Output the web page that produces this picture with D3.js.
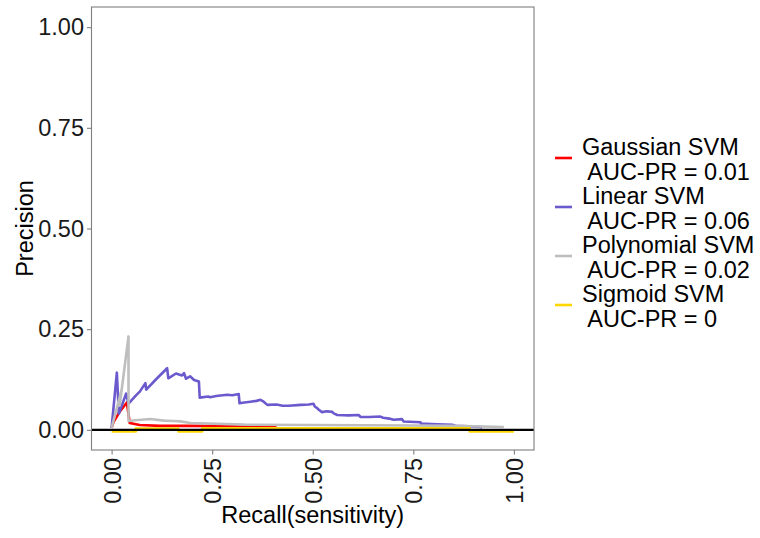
<!DOCTYPE html>
<html>
<head>
<meta charset="utf-8">
<script src="https://cdn.jsdelivr.net/npm/d3@7"></script>
<style>
  body { margin: 0; background: #fff; }
  text { font-family: "Liberation Sans", Arial, sans-serif; }
</style>
</head>
<body>
<svg width="760" height="538"></svg>
<script>
"use strict";

// series (recall, precision)
let gaussianRecall = [0, 0.005, 0.02, 0.038, 0.045, 0.07, 0.12, 0.2, 0.3, 0.36, 0.41];
let gaussianPrec = [0.005, 0.02, 0.045, 0.068, 0.017, 0.012, 0.01, 0.01, 0.009, 0.008, 0.008];

let linearRecall = [0, 0.013, 0.018, 0.036, 0.042, 0.06, 0.07, 0.084, 0.086, 0.11, 0.138, 0.141, 0.16, 0.175,
  0.18, 0.185, 0.195, 0.205, 0.217, 0.219, 0.24, 0.245, 0.26, 0.287, 0.3, 0.316, 0.318, 0.33, 0.345, 0.36,
  0.37, 0.378, 0.387, 0.41, 0.425, 0.44, 0.47, 0.49, 0.502, 0.505, 0.511, 0.515, 0.523, 0.535, 0.548, 0.552,
  0.561, 0.59, 0.614, 0.619, 0.64, 0.668, 0.675, 0.69, 0.701, 0.722, 0.726, 0.768, 0.769, 0.809,
  0.847, 0.855, 0.917, 0.921];
let linearPrec = [0.005, 0.142, 0.04, 0.09, 0.065, 0.085, 0.095, 0.116, 0.1, 0.125, 0.153, 0.128, 0.14, 0.135,
  0.141, 0.127, 0.133, 0.124, 0.12, 0.08, 0.083, 0.081, 0.084, 0.087, 0.086, 0.089, 0.066, 0.068, 0.07, 0.072,
  0.0745, 0.07, 0.062, 0.063, 0.06, 0.06, 0.062, 0.063, 0.065, 0.058, 0.054, 0.05, 0.044, 0.046, 0.045, 0.041,
  0.037, 0.036, 0.037, 0.032, 0.032, 0.033, 0.03, 0.028, 0.025, 0.0266, 0.0206, 0.019, 0.0156, 0.014,
  0.0124, 0.01, 0.0074, 0.005];

let polyRecall = [0, 0.025, 0.02, 0.042, 0.042, 0.06, 0.096, 0.13, 0.154, 0.171, 0.196, 0.33, 0.5, 0.75, 0.85, 0.975];
let polyPrec = [0.005, 0.1, 0.06, 0.232, 0.022, 0.024, 0.027, 0.023, 0.022, 0.021, 0.017, 0.013, 0.012, 0.011, 0.01, 0.007];

let sigmoidRecall = [0, 0.06, 0.06, 0.166, 0.166, 0.225, 0.225, 0.89, 0.89, 1.0];
let sigmoidPrec = [-0.004, -0.004, 0.003, 0.003, -0.004, -0.004, 0.004, 0.004, -0.004, -0.004];

let seriesNames = ["Gaussian SVM", "Linear SVM", "Polynomial SVM", "Sigmoid SVM"];
let aucLabels = ["AUC-PR = 0.01", "AUC-PR = 0.06", "AUC-PR = 0.02", "AUC-PR = 0"];
let seriesColors = ["#ff0000", "#6a5acd", "#bebebe", "#ffd700"];
let tickValues = [0, 0.25, 0.5, 0.75, 1];

let series = [
  d3.zip(gaussianRecall, gaussianPrec),
  d3.zip(linearRecall, linearPrec),
  d3.zip(polyRecall, polyPrec),
  d3.zip(sigmoidRecall, sigmoidPrec)
];

let svg = d3.select("svg");
let panelL = 91.5, panelR = 534, panelT = 7, panelB = 450;
let fontSize = "23.5px";

let x = d3.scaleLinear().domain([-0.05, 1.05]).range([panelL, panelR]);
let y = d3.scaleLinear().domain([-0.05, 1.05]).range([panelB, panelT]);

let line = d3.line().x(d => x(d[0])).y(d => y(d[1]));

let g = svg.append("g");

series.forEach((s, i) => {
  g.append("path")
    .datum(s)
    .attr("d", line)
    .attr("fill", "none")
    .attr("stroke", seriesColors[i])
    .attr("stroke-width", 2.6)
    .attr("stroke-linejoin", "round");
});

// reference line at zero
g.append("line")
  .attr("x1", panelL).attr("x2", panelR)
  .attr("y1", y(0)).attr("y2", y(0))
  .attr("stroke", "#000")
  .attr("stroke-width", 2.2);

// panel border
svg.append("rect")
  .attr("x", panelL).attr("y", panelT)
  .attr("width", panelR - panelL).attr("height", panelB - panelT)
  .attr("fill", "none")
  .attr("stroke", "#7f7f7f")
  .attr("stroke-width", 1.1);

let fmt = d3.format(".2f");

// y axis
let yAxis = svg.append("g")
  .attr("transform", "translate(" + panelL + ",0)")
  .call(d3.axisLeft(y).tickValues(tickValues).tickFormat(fmt).tickSize(4.5).tickPadding(3));
yAxis.select(".domain").remove();
yAxis.selectAll(".tick line").attr("stroke", "#7f7f7f").attr("stroke-width", 1.1);
yAxis.selectAll(".tick text")
  .attr("fill", "#1a1a1a")
  .style("font-size", fontSize)
  .style("font-family", "Liberation Sans, Arial, sans-serif");

// x axis, labels turned upright
let xAxis = svg.append("g")
  .attr("transform", "translate(0," + panelB + ")")
  .call(d3.axisBottom(x).tickValues(tickValues).tickFormat(fmt).tickSize(4.5));
xAxis.select(".domain").remove();
xAxis.selectAll(".tick line").attr("stroke", "#7f7f7f").attr("stroke-width", 1.1);
xAxis.selectAll(".tick text")
  .attr("fill", "#1a1a1a")
  .attr("text-anchor", "end")
  .attr("transform", "translate(0,8) rotate(-90)")
  .attr("x", 0).attr("y", 0)
  .attr("dy", "0.36em")
  .style("font-size", fontSize)
  .style("font-family", "Liberation Sans, Arial, sans-serif");

// axis titles
svg.append("text")
  .attr("x", (panelL + panelR) / 2)
  .attr("y", 523)
  .attr("text-anchor", "middle")
  .style("font-size", fontSize)
  .text("Recall(sensitivity)");

svg.append("text")
  .attr("transform", "translate(33," + ((panelT + panelB) / 2) + ") rotate(-90)")
  .attr("text-anchor", "middle")
  .style("font-size", fontSize)
  .text("Precision");

// legend
let legend = svg.append("g");
seriesNames.forEach((name, i) => {
  let base = 155 + i * 49;
  legend.append("line")
    .attr("x1", 555).attr("x2", 572)
    .attr("y1", base + 3).attr("y2", base + 3)
    .attr("stroke", seriesColors[i])
    .attr("stroke-width", 2.6);
  legend.append("text")
    .attr("x", 582).attr("y", base)
    .style("font-size", fontSize)
    .text(name);
  legend.append("text")
    .attr("x", 582).attr("y", base + 25)
    .style("font-size", fontSize)
    .style("white-space", "pre")
    .text(" " + aucLabels[i]);
});
</script>
</body>
</html>
